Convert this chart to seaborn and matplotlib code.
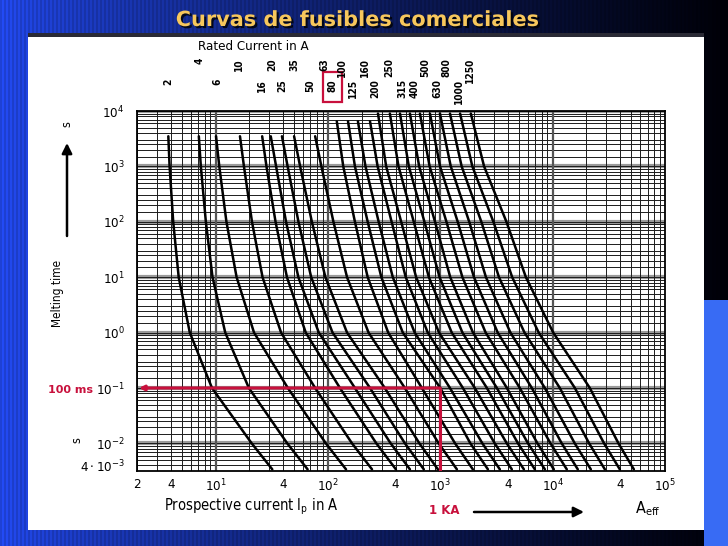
import numpy as np
import pandas as pd
import matplotlib
matplotlib.use("Agg")
import matplotlib.pyplot as plt
import seaborn as sns
from matplotlib.patches import Rectangle
from matplotlib.ticker import LogLocator, NullFormatter, FixedLocator
import matplotlib.patheffects as pe

# ---------------- data ----------------
ratings = [2, 4, 6, 10, 16, 20, 25, 35, 50, 63, 80, 100, 125,
           160, 200, 250, 315, 400, 500, 630, 800, 1000, 1250]
top_time = [3500, 3500, 3500, 3500, 3500, 3500, 3500, 3500, 3500,
            6500, 6500, 6500, 6500,
            9000, 9000, 9000, 9000, 9000, 9000, 9000, 9000, 9000, 9000]
time_levels = [1000, 100, 10, 1, 0.1, 0.01, 0.0034]
# melting current (A) at [top_time, *time_levels] for every rating
melt_current = [
    [3.8, 3.9, 4.2, 4.7, 5.9, 9.3, 21, 32],
    [7.1, 7.4, 8.2, 9.4, 12.2, 19.8, 43.5, 66],
    [10.1, 10.8, 12.5, 15.4, 22, 44, 96, 145],
    [16.5, 17.9, 21.1, 26.2, 38.3, 77, 164, 247],
    [26, 28.4, 34.2, 43.2, 63.5, 128, 270, 403],
    [31, 34.6, 42.4, 54.6, 83, 174, 362, 537],
    [39, 43.8, 54.7, 71, 110, 237, 485, 714],
    [50, 56.6, 72, 95, 148, 321, 652, 953],
    [77, 87.5, 112, 148, 230, 484, 968, 1406],
    [120, 137, 174, 226, 344, 686, 1355, 1950],
    [151, 174, 226, 299, 464, 1000, 1854, 2655],
    [185, 216, 283, 378, 592, 1220, 2370, 3390],
    [237, 277, 369, 493, 774, 1590, 3055, 4335],
    [279, 330, 449, 610, 975, 2030, 3910, 5550],
    [356, 425, 581, 792, 1265, 2600, 4920, 6950],
    [438, 525, 723, 986, 1575, 3190, 6040, 8530],
    [537, 649, 898, 1227, 1954, 3917, 7330, 10250],
    [659, 804, 1135, 1574, 2535, 5105, 9570, 13370],
    [809, 995, 1430, 1995, 3245, 6530, 12050, 16750],
    [993, 1240, 1810, 2550, 4210, 8530, 15740, 21880],
    [1220, 1550, 2320, 3330, 5620, 11590, 21130, 29170],
    [1500, 1930, 2970, 4365, 7515, 15780, 28710, 39630],
    [1870, 2455, 3880, 5780, 10120, 21430, 38550, 52840],
]
x_ticks = [2, 4, 10, 40, 100, 400, 1000, 4000, 10000, 40000, 100000]
x_tick_labels = ["2", "4", r"$10^{1}$", "4", r"$10^{2}$", "4", r"$10^{3}$",
                 "4", r"$10^{4}$", "4", r"$10^{5}$"]
y_ticks = [1e4, 1e3, 1e2, 1e1, 1, 0.1, 0.01, 0.004]
y_tick_labels = [r"$10^{4}$", r"$10^{3}$", r"$10^{2}$", r"$10^{1}$", r"$10^{0}$",
                 r"$10^{-1}$", r"$10^{-2}$", r"$4 \cdot 10^{-3}$"]
marker_current = 1000   # 1 kA
marker_time = 0.1       # 100 ms
title = "Curvas de fusibles comerciales"

# ---------------- layout / style (pixel positions) ----------------
rating_label_x = [168, 200, 217, 239, 262, 272, 282, 294, 310, 324, 333, 342, 353,
                  365, 375, 389, 402, 415, 425, 437, 447, 459, 470]
rating_label_row = [1, 0, 1, 0, 1, 0, 1, 0, 1, 0, 1, 0, 1,
                    0, 1, 0, 1, 1, 0, 1, 0, 1, 0]

rows = []
for r, tt, cur in zip(ratings, top_time, melt_current):
    for c, t in zip(cur, [tt] + time_levels):
        rows.append({"rating": r, "current": c, "time": t})
df = pd.DataFrame(rows)

sns.set_theme(style="white")
plt.rcParams["font.family"] = ["DejaVu Sans"]
plt.rcParams["font.stretch"] = "condensed"
plt.rcParams["mathtext.default"] = "regular"

W, H = 728, 546
fig = plt.figure(figsize=(W / 100, H / 100), dpi=100)

# slide background
bg = fig.add_axes([0, 0, 1, 1], zorder=0)
xs = np.linspace(0, 1, W)
f = (xs ** 0.7)[:, None]
left_c = np.array([0.14, 0.30, 0.98])
right_c = np.array([0.0, 0.0, 0.03])
row = left_c * (1 - f) + right_c * f
stripes = (0.86 + 0.14 * ((np.arange(W) // 2) % 2))[:, None]
row = row * stripes
img = np.tile(row[None, :, :], (H, 1, 1))
img[300:, 704:] = [0.22, 0.42, 0.96]
bg.imshow(np.clip(img, 0, 1), extent=[0, W, H, 0], aspect="auto", interpolation="nearest")
bg.set_xlim(0, W)
bg.set_ylim(H, 0)
bg.axis("off")
bg.add_patch(Rectangle((28, 33), 676, 5, color="#2a2a35", lw=0))
bg.add_patch(Rectangle((28, 37), 676, 493, color="white", lw=0))

# main chart axes
ax = fig.add_axes([137 / W, 1 - 471 / H, 528 / W, 360 / H], zorder=2)
ax.set_xscale("log")
ax.set_yscale("log")
ax.set_facecolor("white")

sns.lineplot(data=df, x="current", y="time", units="rating", estimator=None,
             sort=False, color="black", linewidth=1.8, legend=False, ax=ax, zorder=3)

ax.set_xlim(2, 1e5)
ax.set_ylim(10 ** (4 - 360 / 55.4), 1e4)

ax.xaxis.set_major_locator(FixedLocator(x_ticks))
ax.set_xticklabels(x_tick_labels)
ax.yaxis.set_major_locator(FixedLocator(y_ticks))
ax.set_yticklabels(y_tick_labels)
ax.xaxis.set_minor_locator(LogLocator(base=10, subs=[2, 3, 4, 5, 6, 7, 8, 9], numticks=30))
ax.yaxis.set_minor_locator(LogLocator(base=10, subs=[1.5, 2, 2.5, 3, 4, 5, 6, 7, 8, 9], numticks=30))
ax.xaxis.set_minor_formatter(NullFormatter())
ax.yaxis.set_minor_formatter(NullFormatter())
ax.grid(True, which="both", color="#1c1c1c", linewidth=0.7, zorder=1)
for k in range(-2, 5):
    ax.axhline(10.0 ** k, color="#9a9a9a", linewidth=3.0, zorder=0.5)
for k in range(1, 5):
    ax.axvline(10.0 ** k, color="#555555", linewidth=1.6, zorder=0.6)
ax.tick_params(which="both", length=0, labelsize=9.5, colors="black")
ax.tick_params(axis="y", pad=9)
ax.tick_params(axis="x", pad=5)
ax.set_xlabel("")
ax.set_ylabel("")
for s in ax.spines.values():
    s.set_color("black")
    s.set_linewidth(1.3)

RED = "#c8103c"
ax.plot([marker_current, marker_current], [marker_time, ax.get_ylim()[0]],
        color=RED, linewidth=2.2, zorder=5, solid_capstyle="butt")
ax.annotate("", xy=(2.08, marker_time), xytext=(marker_current, marker_time),
            arrowprops=dict(arrowstyle="-|>", color=RED, lw=2.2, mutation_scale=7,
                            shrinkA=0, shrinkB=0), zorder=5)

# title
bg.text(358, 20, title, ha="center", va="center", fontsize=15, fontweight="bold",
        color="#f7c75c", family="DejaVu Sans", fontstretch="normal",
        path_effects=[pe.SimplePatchShadow(offset=(1.5, -1.5), shadow_rgbFace="black", alpha=0.8),
                      pe.Normal()])

# top labels
bg.text(253, 47, "Rated Current in A", ha="center", va="center", fontsize=9.5, color="black")
for lab, x, rw in zip(ratings, rating_label_x, rating_label_row):
    y = 58 if rw == 0 else 79
    bg.text(x, y, str(lab), rotation=90, ha="center", va="top", fontsize=7.3,
            fontweight="bold", color="black")
bg.add_patch(Rectangle((323, 72), 19, 30, fill=False, edgecolor=RED, linewidth=1.6))

# y-axis label, arrow and units
bg.text(58, 293, "Melting time", rotation=90, ha="center", va="center", fontsize=8.5, color="black")
bg.annotate("", xy=(67, 143), xytext=(67, 236),
            arrowprops=dict(arrowstyle="-|>", color="black", lw=1.8, mutation_scale=15,
                            shrinkA=0, shrinkB=0))
bg.text(67, 124, "s", rotation=90, ha="center", va="center", fontsize=9, color="black")
bg.text(77, 440, "s", rotation=90, ha="center", va="center", fontsize=9, color="black")
bg.text(93, 390, "100 ms", ha="right", va="center", fontsize=8, fontweight="bold",
        color=RED, family="DejaVu Sans", fontstretch="normal")

# x-axis label and arrow
bg.text(164, 507, r"Prospective current I$_{p}$ in A", ha="left", va="center",
        fontsize=10.5, color="black")
bg.text(444, 511, "1 KA", ha="center", va="center", fontsize=8.5, fontweight="bold",
        color=RED, family="DejaVu Sans", fontstretch="normal")
bg.annotate("", xy=(584, 512), xytext=(474, 512),
            arrowprops=dict(arrowstyle="-|>", color="black", lw=1.8, mutation_scale=15,
                            shrinkA=0, shrinkB=0))
bg.text(635, 509, r"A$_{eff}$", ha="left", va="center", fontsize=11.5, color="black")

fig.savefig("out.png", dpi=100)
